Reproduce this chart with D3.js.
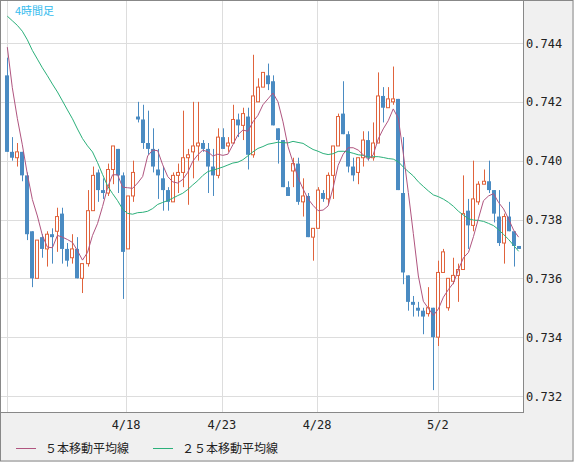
<!DOCTYPE html>
<html><head><meta charset="utf-8">
<script src="https://cdn.jsdelivr.net/npm/d3@7"></script>
<style>body{margin:0;background:#fff}svg{display:block}</style>
</head><body>
<script>
const opens =[.7429,.7403,.7401,.7403,.7395,.7376,.7360,.7374,.7370,.7375,.7376,.7382,.7370,.7367,.7370,.7360,.7365,.7383,.7396,.7390,.7389,.7397,.7404,.7395,.7370,.7388,.7415,.7414,.7406,.7404,.7397,.7394,.7390,.7386,.7395,.7396,.7401,.7403,.7405,.7406,.7404,.7398,.7395,.7408,.7405,.7406,.7414,.7412,.7415,.7402,.7420,.7425,.7429,.7427,.7411,.7407,.7391,.73965,.7399,.7386,.7388,.7374,.7377,.7389,.7387,.7395,.7405,.7416,.7409,.7398,.7396,.7401,.7407,.7401,.7406,.7422,.7418,.7420,.7421,.7389,.7361,.7352,.7350,.7349,.7348,.7350,.7340,.7362,.7350,.7359,.7361,.7363,.7383,.7378,.7386,.7392,.7393,.7390,.7381,.7372,.7381,.7376,.7371];
const highs =[.7435,.7408,.7406,.7403,.7396,.7376,.7373,.7375,.7376,.7377,.7384,.7384,.7372,.7375,.7374,.7365,.7390,.7398,.7397,.7394,.7399,.7405,.7404,.7396,.7388,.7400,.7420,.7419,.7417,.7411,.7404,.7398,.7391,.7396,.7399,.7417,.7404,.7420,.7420,.7407,.7406,.7404,.7411,.7411,.7408,.7419,.7416,.7418,.7418,.7436,.7428,.7430,.7433,.7429,.7411,.7407,.7393,.7401,.7401,.7394,.7389,.7377,.7391,.7390,.7396,.7405,.7416,.7427,.7410,.7401,.7401,.7410,.7410,.7413,.7430,.7425,.7425,.7432,.7421,.7408,.7361,.7354,.7352,.7350,.7357,.7350,.7366,.7370,.7360,.7367,.7365,.7395,.7387,.7400,.7393,.7397,.7400,.7390,.7390,.7382,.7386,.7376,.7371];
const lows  =[.7403,.7400,.7398,.7393,.7373,.7357,.7360,.7367,.7364,.7365,.7369,.7365,.7364,.7365,.7360,.7355,.7364,.7383,.7386,.7387,.7388,.7392,.7389,.7353,.7370,.7386,.7413,.7404,.7402,.7396,.7387,.7383,.7383,.7386,.7389,.7391,.7385,.7394,.7400,.7403,.7389,.7388,.7394,.7404,.7403,.7406,.7408,.7407,.7397,.7401,.7420,.7425,.7424,.7412,.7399,.7391,.7388,.7391,.7385,.7381,.7374,.7366,.7377,.7386,.7385,.7387,.7405,.7409,.7396,.7393,.7392,.7398,.7400,.7400,.7406,.7413,.7418,.7419,.7390,.7358,.7349,.7347,.7347,.7341,.7347,.7322,.7337,.7362,.7349,.7358,.7352,.7363,.7370,.7376,.7385,.7392,.7389,.7379,.7371,.7365,.7376,.7364,.7370];
const closes=[.7403,.7401,.7403,.7395,.7375,.7360,.7373,.7370,.7375,.7374,.7381,.7370,.7366,.7370,.7360,.7365,.7383,.7395,.7390,.7389,.7397,.7405,.7395,.7369,.7388,.7396,.7414,.7406,.7404,.7398,.7395,.7390,.7386,.7395,.7396,.7401,.7402,.7405,.7406,.7404,.7398,.7395,.7408,.7404,.7406,.7414,.7412,.7416,.7402,.7422,.7425,.7430,.7426,.7412,.7407,.7391,.7388,.7399,.7386,.7388,.7374,.7377,.7390,.7387,.7395,.7405,.7415,.7409,.7398,.7395,.7401,.7407,.7401,.7406,.7422,.7418,.7421,.7421,.7390,.7362,.7352,.7351,.7349,.7347,.7350,.7340,.7362,.7369,.7360,.7361,.7363,.7382,.7378,.7387,.7392,.7393,.7390,.7382,.7372,.7381,.7376,.7371,.7370];
const priorCloses=[.7440,.7442,.7445,.7448,.7450,.7447,.7444,.7442,.7445,.7448,.7446,.7443,.7445,.7447,.7446,.7445,.7447,.7480,.7490,.7495,.7470,.7455,.7440,.7425];
const dateTicks=[{i:23.7,label:"4/18"},{i:42.8,label:"4/23"},{i:61.8,label:"4/28"},{i:85.9,label:"5/2"}];
const yTicks=[0.732,0.734,0.736,0.738,0.740,0.742,0.744];

const W=574,H=462,L=1,R=523,T=1,B=412;
const svg=d3.select("body").append("svg").attr("width",W).attr("height",H);
svg.append("rect").attr("width",W).attr("height",H).attr("fill","#f0f0f0");
svg.append("rect").attr("x",0.5).attr("y",0.5).attr("width",W-1.5).attr("height",H-1.5).attr("fill","none").attr("stroke","#888");
svg.append("rect").attr("x",L).attr("y",T).attr("width",R-L).attr("height",B-T).attr("fill","#fff");
const x=d3.scaleLinear().domain([0,102]).range([7.3,518.6]);
const y=d3.scaleLinear().domain([0.732,0.744]).range([396,43]);
const g=svg.append("g");
yTicks.forEach(v=>g.append("line").attr("x1",L).attr("x2",R).attr("y1",Math.round(y(v))+0.5).attr("y2",Math.round(y(v))+0.5).attr("stroke","#ddd"));
g.append("line").attr("x1",7.5).attr("x2",7.5).attr("y1",T).attr("y2",B).attr("stroke","#ddd");
dateTicks.forEach(d=>g.append("line").attr("x1",Math.round(x(d.i))+0.5).attr("x2",Math.round(x(d.i))+0.5).attr("y1",T).attr("y2",B).attr("stroke","#ddd"));
// MAs
const all=priorCloses.concat(closes),P=priorCloses.length;
function ma(n){return closes.map((c,i)=>d3.mean(all.slice(P+i-n+1,P+i+1)));}
const line=d3.line().x((d,i)=>x(i)).y(d=>y(d));
// candles
const blue="#4a8bc2",red="#e0633c";
closes.forEach((c,i)=>{
  const o=opens[i],up=c>=o,col=up?red:blue,cx=Math.round(x(i))+0.5;
  g.append("line").attr("x1",cx).attr("x2",cx).attr("y1",y(highs[i])).attr("y2",y(lows[i])).attr("stroke",col);
  const top=y(Math.max(o,c)),h=Math.max(1,Math.abs(y(o)-y(c)));
  if(up) g.append("rect").attr("x",cx-2.5+0.5).attr("y",top).attr("width",3).attr("height",h).attr("fill","#fff").attr("stroke",col);
  else g.append("rect").attr("x",cx-2.5).attr("y",top).attr("width",4).attr("height",h).attr("fill",col);
});
g.append("path").attr("d",line(ma(25))).attr("fill","none").attr("stroke","#2bb07a").attr("stroke-width",1);
g.append("path").attr("d",line(ma(5))).attr("fill","none").attr("stroke","#b0557f").attr("stroke-width",1);
svg.append("rect").attr("x",L-0.5).attr("y",T-0.5).attr("width",R-L+1).attr("height",B-T+1).attr("fill","none").attr("stroke","#888");
const font="'DejaVu Sans Mono',monospace";
yTicks.forEach(v=>svg.append("text").attr("x",526).attr("y",y(v)+4.5).attr("font-family",font).attr("font-size",12).attr("fill","#222").text(v.toFixed(3)));
dateTicks.forEach(d=>svg.append("text").attr("x",x(d.i)).attr("y",429).attr("text-anchor","middle").attr("font-family",font).attr("font-size",12).attr("fill","#222").text(d.label));
svg.append("text").attr("x",15).attr("y",15).attr("font-family","'Noto Sans CJK JP'").attr("font-size",11).attr("fill","#33bbee").text("4時間足");
const leg=[{t:"５本移動平均線",c:"#b0557f",x:16},{t:"２５本移動平均線",c:"#2bb07a",x:153}];
leg.forEach(l=>{svg.append("line").attr("x1",l.x).attr("x2",l.x+20).attr("y1",448.5).attr("y2",448.5).attr("stroke",l.c);
svg.append("text").attr("x",l.x+29).attr("y",453).attr("font-family","'Noto Sans CJK JP'").attr("font-size",12).attr("fill","#222").text(l.t);});
</script></body></html>
